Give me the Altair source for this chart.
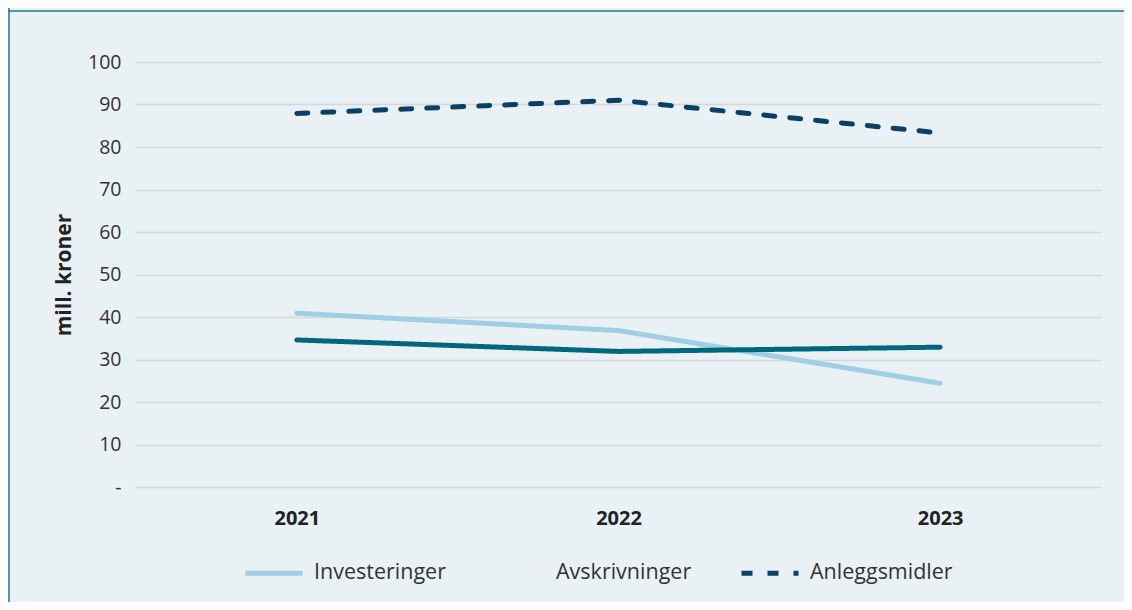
import altair as alt
import pandas as pd

years = ["2021", "2022", "2023"]
series = ["Investeringer", "Avskrivninger", "Anleggsmidler"]
investeringer = [40.9, 36.8, 24.4]
avskrivninger = [34.6, 31.9, 32.9]
anleggsmidler = [87.9, 91.0, 83.3]
y_ticks = [0, 10, 20, 30, 40, 50, 60, 70, 80, 90, 100]

colors = ["#9ecfe5", "#00677f", "#0a4066"]
dashes = [[1, 0], [1, 0], [11, 15]]

rows = []
for s, vals in zip(series, [investeringer, avskrivninger, anleggsmidler]):
    for yr, v in zip(years, vals):
        rows.append({"År": yr, "Serie": s, "Strek": s, "Verdi": v})
df = pd.DataFrame(rows)

W, H = 965, 425
FONT = "Open Sans"

legend = alt.Legend(
    title=None,
    orient="none",
    legendX=107,
    legendY=480,
    direction="horizontal",
    symbolType="stroke",
    symbolSize=57 * 57,
    symbolStrokeWidth=5,
    symbolOpacity=alt.ExprRef("datum.value === 'Avskrivninger' ? 0 : 1"),
    symbolDash=alt.ExprRef("datum.value === 'Anleggsmidler' ? [19, 7, 19, 11, 4, 20] : [1, 0]"),
    labelFont=FONT,
    labelFontSize=21.5,
    labelColor="#333333",
    labelOffset=9,
    columnPadding=39,
)

lines = alt.Chart(df).mark_line(strokeWidth=5, strokeCap="round", strokeJoin="round").encode(
    x=alt.X(
        "År:O",
        sort=years,
        scale=alt.Scale(type="point", padding=0.5),
        axis=alt.Axis(
            title=None, labelAngle=0, labelFont=FONT, labelFontWeight="bold",
            labelFontSize=20, labelColor="#222222", labelPadding=21,
            ticks=False, domain=False, grid=False,
        ),
    ),
    y=alt.Y(
        "Verdi:Q",
        scale=alt.Scale(domain=[0, 100], nice=False),
        axis=alt.Axis(
            values=y_ticks,
            title="mill. kroner",
            labelExpr="datum.value == 0 ? '-' : datum.label",
            labelFont=FONT, labelFontSize=19.5, labelColor="#333333", labelPadding=15,
            titleFont=FONT, titleFontSize=21, titleFontWeight="bold", titleColor="#222222",
            titlePadding=13,
            ticks=False, domain=False, grid=True,
            gridColor="#d5d8db", gridWidth=1.5,
        ),
    ),
    color=alt.Color("Serie:N", sort=series, scale=alt.Scale(domain=series, range=colors), legend=legend),
    strokeDash=alt.StrokeDash("Strek:N", sort=series, scale=alt.Scale(domain=series, range=dashes), legend=None),
)

frame_df = pd.DataFrame({"k": [0]})
top_border = alt.Chart(frame_df).mark_rule(color="#1b7b90", strokeWidth=1.5).encode(
    x=alt.value(-140), x2=alt.value(W + 60), y=alt.value(-51)
)
left_border = alt.Chart(frame_df).mark_rule(color="#1b7b90", strokeWidth=1.5).encode(
    x=alt.value(-127), y=alt.value(-60), y2=alt.value(H + 140)
)

chart = alt.layer(top_border, left_border, lines).properties(
    width=W,
    height=H,
    padding={"left": 128, "top": 54, "right": 23, "bottom": 115},
    autosize=alt.AutoSizeParams(type="none"),
    background="#e9f1f5",
).configure_view(stroke=None)

chart.save("out.html", embed_options={"renderer": "svg", "actions": False})
